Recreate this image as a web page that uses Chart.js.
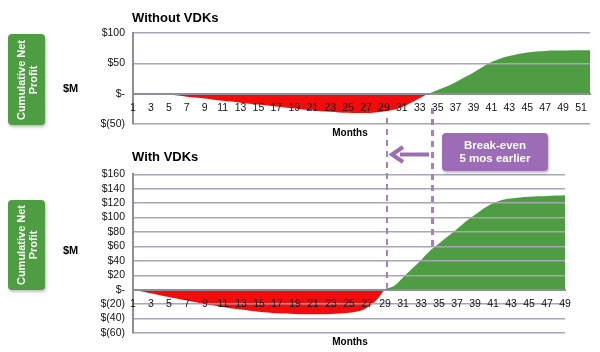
<!DOCTYPE html>
<html><head><meta charset="utf-8">
<script src="https://cdn.jsdelivr.net/npm/chart.js@4.4.1/dist/chart.umd.min.js"></script>
<style>
body{margin:0;width:600px;height:352px;overflow:hidden;background:#fff;font-family:"Liberation Sans",Arial,sans-serif;position:relative}
.abs{position:absolute}
.title{font-weight:bold;font-size:13px;color:#000;line-height:16px}
.months{font-weight:bold;font-size:10px;color:#000;width:60px;text-align:center;line-height:12px}
.sm{font-weight:bold;font-size:11px;color:#000;line-height:13px}
.gbox{background:#4f9d42;border-radius:4px;box-shadow:1px 2px 3px rgba(0,0,0,0.25);width:37px;overflow:hidden}
.gtext{position:absolute;left:50%;top:50%;transform:translate(-50%,-50%) rotate(-90deg);white-space:nowrap;color:#fff;font-weight:bold;font-size:11px;line-height:12px;text-align:center}
.dash{width:2.5px;background:repeating-linear-gradient(to bottom,#a67fc2 0 6px,rgba(0,0,0,0) 6px 11px)}
.pbox{background:#9c6cb6;border-radius:4px;box-shadow:1px 2px 3px rgba(0,0,0,0.25);color:#fff;font-weight:bold;font-size:11.5px;line-height:13px;text-align:center}
</style></head><body>
<canvas id="cTop" class="abs" width="600" height="140" style="left:0;top:0"></canvas>
<canvas id="cBot" class="abs" width="600" height="192" style="left:0;top:160px"></canvas>

<div class="abs title" style="left:132px;top:10px">Without VDKs</div>
<div class="abs title" style="left:132px;top:149px">With VDKs</div>
<div class="abs months" style="left:320px;top:127px">Months</div>
<div class="abs months" style="left:320px;top:336px">Months</div>
<div class="abs sm" style="left:63px;top:82px">$M</div>
<div class="abs sm" style="left:63px;top:244px">$M</div>
<div class="abs gbox" style="left:8px;top:34px;height:91px"><div class="gtext">Cumulative Net<br>Profit</div></div>
<div class="abs gbox" style="left:8px;top:200px;height:90px"><div class="gtext">Cumulative Net<br>Profit</div></div>

<div id="d1" class="abs dash"></div>
<div id="d2" class="abs dash"></div>
<svg class="abs" style="left:386px;top:144px" width="50" height="22">
  <line x1="14" y1="10.5" x2="43" y2="10.5" stroke="#9c6cb6" stroke-width="4"/>
  <polyline points="17,3 6,10.5 17,18" fill="none" stroke="#9c6cb6" stroke-width="4" stroke-linejoin="miter"/>
</svg>
<div class="abs pbox" style="left:442px;top:133px;width:106px;height:38px;padding-top:6px;box-sizing:border-box">Break-even<br>5 mos earlier</div>

<script>
// ---- Data ----
const monthsTop = ['1','2','3','4','5','6','7','8','9','10','11','12','13','14','15','16','17','18','19','20','21','22','23','24','25','26','27','28','29','30','31','32','33','34','35','36','37','38','39','40','41','42','43','44','45','46','47','48','49','50','51','52'];
const profitWithout = [0,0,0,0,-1.5,-3,-5,-6.5,-8,-10,-11.5,-13,-15,-16.5,-18,-19.5,-21,-23,-24.5,-26,-27.5,-29,-30,-31,-31.5,-32,-32,-31,-29.5,-27,-22.5,-15,-7,0,6,12,19,27,35,44,52,58,62,65.5,68,69.5,70.5,71,71,71.5,71.5,71.5];
const monthsBot = ['1','2','3','4','5','6','7','8','9','10','11','12','13','14','15','16','17','18','19','20','21','22','23','24','25','26','27','28','29','30','31','32','33','34','35','36','37','38','39','40','41','42','43','44','45','46','47','48','49'];
const profitWith = [0,-2.5,-5,-7.5,-10,-12.5,-15,-17.5,-20,-22,-24,-26,-27.5,-29,-30.5,-31.5,-32.5,-33,-33.5,-34,-34,-34,-33.5,-33,-32,-30,-25,-15,0,5,17,29,41,54,64,74,84,95,104,113,120,124.5,126.5,128,129,129.5,130,130.5,131];
const yTopRange = [-50, 100, 50];
const yBotRange = [-60, 160, 20];
const breakEvenWithout = 33.4; // category index (month ~34.4)
const breakEvenWith = 28.2;    // category index (month ~29)

const FONT = '"Liberation Sans", Arial, sans-serif';
const fmt = v => v === 0 ? '$-' : (v < 0 ? '$(' + (-v) + ')' : '$' + v);

function makeChart(id, labels, values, range, pad) {
  return new Chart(document.getElementById(id), {
    type: 'line',
    data: { labels: labels, datasets: [{
      data: values,
      fill: { target: 'origin', above: '#4f9d42', below: '#f20c0c' },
      borderColor: 'rgba(0,0,0,0)', borderWidth: 0, pointRadius: 0,
      cubicInterpolationMode: 'monotone'
    }]},
    options: {
      responsive: false, animation: false, devicePixelRatio: 1,
      layout: { padding: pad },
      plugins: { legend: { display: false }, tooltip: { enabled: false } },
      scales: {
        x: {
          type: 'category', offset: false, position: { y: 0 },
          grid: { display: false, drawTicks: false },
          border: { display: true, color: '#8f8d9b', width: 2, z: 2 },
          ticks: { autoSkip: false, maxRotation: 0, minRotation: 0, padding: 8, color: '#111', z: 3,
                   font: { family: FONT, size: 10.5 },
                   callback: (v, i) => i % 2 === 0 ? labels[i] : '' }
        },
        y: {
          min: range[0], max: range[1],
          grid: { color: '#a8a6b4', lineWidth: 1.5, drawTicks: false, z: 1 },
          border: { display: true, color: '#8f8d9b', width: 2, z: 2 },
          ticks: { stepSize: range[2], autoSkip: false, padding: 8, color: '#111',
                   font: { family: FONT, size: 10.5 }, callback: fmt },
          afterFit: s => { s.width = 133; }
        }
      }
    }
  });
}

const chartTop = makeChart('cTop', monthsTop, profitWithout, yTopRange, { left: 0, right: 10, top: 33, bottom: 16 });
const chartBot = makeChart('cBot', monthsBot, profitWith, yBotRange, { left: 0, right: 35, top: 12, bottom: 19 });

// annotation lines positioned from the chart scales
const x1 = chartBot.scales.x.getPixelForValue(breakEvenWith);
const y1b = 160 + chartBot.scales.y.getPixelForValue(0);
const d1 = document.getElementById('d1');
d1.style.left = (x1 - 1) + 'px'; d1.style.top = '118px'; d1.style.height = (y1b - 118) + 'px';
const x2 = chartTop.scales.x.getPixelForValue(breakEvenWithout);
const y2b = 160 + chartBot.scales.y.getPixelForValue(57);
const d2 = document.getElementById('d2');
d2.style.left = (x2 - 1) + 'px'; d2.style.top = '108px'; d2.style.height = (y2b - 108) + 'px';
</script>
</body></html>
